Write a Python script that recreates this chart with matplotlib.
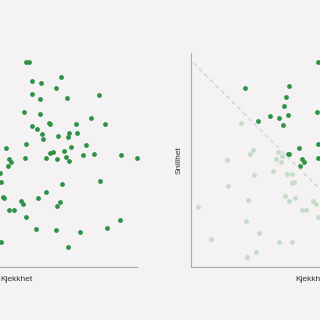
import matplotlib
matplotlib.use("Agg")
from matplotlib import pyplot as plt

# left panel: everyone
all_x = [5.39, 5.51, 6.85, 5.63, 6.01, 6.64, 5.63, 5.96, 7.08, 8.40,
         5.30, 5.95, 6.35, 6.36, 8.10, 7.47, 8.67, 5.63, 5.82, 6.03,
         6.07, 6.72, 7.18, 7.12, 7.51, 4.55, 5.39, 7.87, 7.27, 6.97,
         6.36, 6.51, 4.65, 4.75, 5.35, 6.21, 6.65, 7.05, 7.15, 7.75,
         8.23, 9.33, 10.0, 4.61, 4.29, 8.46, 4.33, 6.89, 4.40, 4.46,
         5.15, 5.25, 5.88, 6.22, 6.81, 6.68, 4.67, 4.86, 5.38, 5.79,
         6.61, 7.64, 8.74, 9.29, 7.12, 4.32]
all_y = [9.62, 9.62, 8.90, 8.69, 8.59, 8.37, 8.09, 7.87, 7.89, 8.04,
         7.26, 7.15, 6.74, 6.68, 6.97, 6.68, 6.68, 6.60, 6.44, 6.20,
         5.99, 6.12, 6.26, 6.07, 6.25, 5.57, 5.75, 5.70, 5.61, 5.40,
         5.34, 5.37, 5.07, 4.92, 5.09, 5.10, 5.04, 5.15, 4.96, 5.24,
         5.29, 5.22, 5.08, 4.73, 4.37, 4.01, 3.96, 3.88, 3.25, 3.20,
         3.09, 2.93, 3.20, 3.51, 3.03, 2.85, 2.65, 2.65, 2.34, 1.76,
         1.71, 1.62, 1.83, 2.17, 0.90, 1.13]

# right panel: the ones we notice (above the line) and the rest
picked_x = [5.30, 2.23, 4.08, 3.95, 3.89, 3.27, 3.66, 4.03, 2.78, 3.85,
            5.25, 5.30, 4.51, 4.02, 4.10, 4.61, 4.70, 4.55, 5.29]
picked_y = [9.62, 8.37, 8.48, 7.96, 7.53, 7.05, 6.98, 7.11, 6.84, 6.62,
            7.26, 5.76, 5.57, 5.27, 5.26, 5.06, 4.91, 4.72, 5.09]
rest_x = [2.08, 2.57, 2.46, 1.50, 3.61, 3.80, 3.52, 3.74, 3.40, 3.99,
          4.19, 2.63, 4.19, 4.27, 3.93, 4.35, 4.07, 5.10, 5.20, 4.61,
          4.79, 5.30, 2.85, 3.67, 4.22, 2.72, 2.35, 1.55, 0.29, 2.36,
          2.31, 0.82]
rest_y = [6.72, 5.46, 5.26, 5.00, 5.37, 5.20, 5.04, 4.92, 4.47, 4.33,
          4.35, 4.31, 3.94, 3.97, 3.31, 3.24, 3.06, 3.09, 2.92, 2.64,
          2.65, 2.34, 1.56, 1.13, 1.13, 0.66, 0.45, 3.80, 2.78, 3.10,
          2.13, 1.30]
cut_x = [0.1, 8.6]
cut_y = [9.56, 0.0]

bg = '#f4f2f3'
dark = '#2f9246'
light = '#c4dcc4'
plt.rcParams['font.family'] = ['Liberation Sans', 'DejaVu Sans']

fig = plt.figure(figsize=(3.2, 3.2), dpi=100, facecolor=bg)
ax1 = fig.add_axes([-0.322, 0.167, 0.75, 0.666])
ax2 = fig.add_axes([0.597, 0.167, 0.75, 0.666])

for ax in (ax1, ax2):
    ax.set_facecolor(bg)
    ax.set_xlim(0, 10)
    ax.set_ylim(0, 10)
    ax.set_xticks([])
    ax.set_yticks([])
    ax.spines['top'].set_visible(False)
    ax.spines['right'].set_visible(False)
    ax.spines['left'].set_color('#aaaaaa')
    ax.spines['bottom'].set_color('#aaaaaa')
    ax.set_xlabel("Kjekkhet", fontsize=6, color='#333333', labelpad=7)
ax2.set_ylabel("Snillhet", fontsize=6, color='#333333', labelpad=6)

ax1.scatter(all_x, all_y, s=12, color=dark, linewidths=0, clip_on=False)

ax2.plot(cut_x, cut_y, color='#d0cdcf', linestyle='--', linewidth=0.8, dashes=(4, 3))
ax2.scatter(rest_x, rest_y, s=12, color=light, linewidths=0, clip_on=False)
ax2.scatter(picked_x, picked_y, s=12, color=dark, linewidths=0, clip_on=False)

plt.savefig("out.png", dpi=100, facecolor=bg)
